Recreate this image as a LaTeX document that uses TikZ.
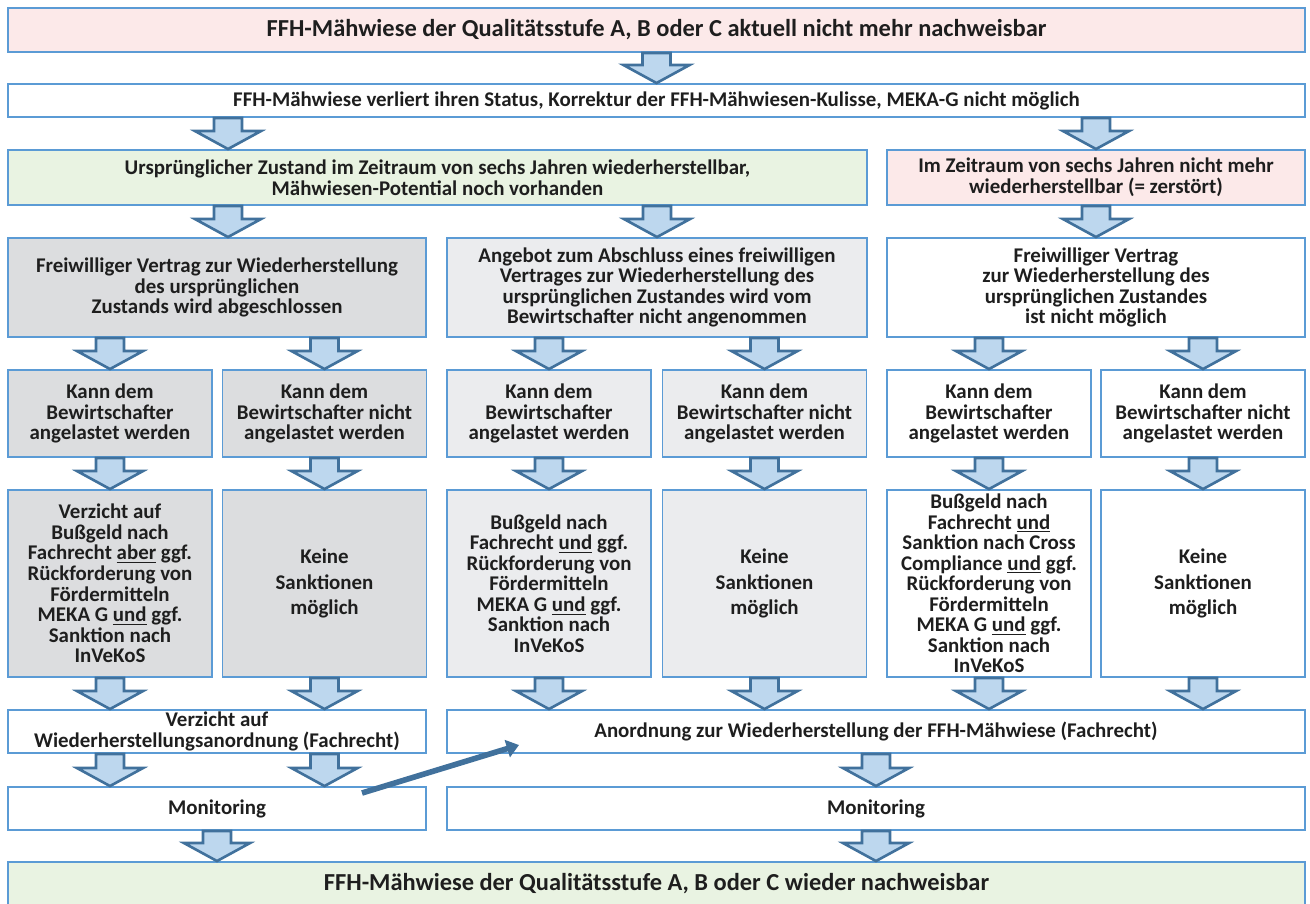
\documentclass[tikz,border=0pt]{standalone}
\usepackage{fontspec}
\setmainfont{Carlito}
\usetikzlibrary{calc,arrows.meta}

\definecolor{boxline}{RGB}{91,155,213}
\definecolor{arrowline}{RGB}{65,113,156}
\definecolor{arrowfill}{RGB}{189,215,238}
\definecolor{lostpink}{RGB}{252,233,233}
\definecolor{backgreen}{RGB}{233,243,226}
\definecolor{greyA}{RGB}{220,221,223}
\definecolor{greyB}{RGB}{235,236,238}
\definecolor{txt}{RGB}{30,30,30}

\begin{document}
\begin{tikzpicture}[
  x=0.02cm, y=-0.02cm,
  box/.style={rectangle, draw=boxline, line width=1.1pt, inner sep=0pt, align=center, text=txt,
    font=\bfseries\fontsize{11.9}{11.7}\selectfont},
  title/.style={box, font=\bfseries\fontsize{13.9}{15}\selectfont},
  cell/.style={box, minimum width=4.08cm},
  loose/.style={font=\bfseries\fontsize{11.9}{14.3}\selectfont},
  fat/.style={draw=arrowline, fill=arrowfill, line width=1.5pt,
    to path={let \p1=(\tikztostart), \p2=(\tikztotarget) in
      (\x2-0.28cm,\y1) -- (\x2-0.28cm,\y2+0.36cm) -- (\x2-0.66cm,\y2+0.36cm) -- (\x2,\y2)
      -- (\x2+0.66cm,\y2+0.36cm) -- (\x2+0.28cm,\y2+0.36cm) -- (\x2+0.28cm,\y1) -- cycle}},
  hint/.style={draw=arrowline, line width=3.2pt, -{Triangle[length=7pt,width=10pt]}}
]
\useasboundingbox (0,0) rectangle (1310,903);

% Top rows
\node[title, fill=lostpink, minimum width=25.94cm, minimum height=0.88cm] (lost) at (656.5,30)
  {FFH-Mähwiese der Qualitätsstufe A, B oder C aktuell nicht mehr nachweisbar};
\node[box, minimum width=25.94cm, minimum height=0.66cm] (status) at (656.5,100.5)
  {FFH-Mähwiese verliert ihren Status, Korrektur der FFH-Mähwiesen-Kulisse, MEKA-G nicht möglich};
\node[box, fill=backgreen, minimum width=17.18cm, minimum height=1.1cm] (restorable) at (437.5,177.5)
  {Ursprünglicher Zustand im Zeitraum von sechs Jahren wiederherstellbar,\\Mähwiesen-Potential noch vorhanden};
\node[box, fill=lostpink, minimum width=8.36cm, minimum height=1.1cm] (destroyed) at (1096,177.5)
  {Im Zeitraum von sechs Jahren nicht mehr\\wiederherstellbar (= zerstört)};

% Contract boxes
\node[box, fill=greyA, minimum width=8.36cm, minimum height=1.98cm] (contract) at (217,287.5)
  {Freiwilliger Vertrag zur Wiederherstellung\\des ursprünglichen\\Zustands wird abgeschlossen};
\node[box, fill=greyB, minimum width=8.4cm, minimum height=1.98cm] (refused) at (657,287.5)
  {Angebot zum Abschluss eines freiwilligen\\Vertrages zur Wiederherstellung des\\ursprünglichen Zustandes wird vom\\Bewirtschafter nicht angenommen};
\node[box, minimum width=8.36cm, minimum height=1.98cm] (impossible) at (1096,287.5)
  {Freiwilliger Vertrag\\zur Wiederherstellung des\\ursprünglichen Zustandes\\ist nicht möglich};

% Guilt boxes
\node[cell, fill=greyA, minimum height=1.74cm] (guiltA) at (110,413.5) {Kann dem\\Bewirtschafter\\angelastet werden};
\node[cell, fill=greyA, minimum height=1.74cm] (freeA) at (324.5,413.5) {Kann dem\\Bewirtschafter nicht\\angelastet werden};
\node[cell, fill=greyB, minimum height=1.74cm] (guiltB) at (549,413.5) {Kann dem\\Bewirtschafter\\angelastet werden};
\node[cell, fill=greyB, minimum height=1.74cm] (freeB) at (764.5,413.5) {Kann dem\\Bewirtschafter nicht\\angelastet werden};
\node[cell, minimum height=1.74cm] (guiltC) at (989,413.5) {Kann dem\\Bewirtschafter\\angelastet werden};
\node[cell, minimum height=1.74cm] (freeC) at (1203,413.5) {Kann dem\\Bewirtschafter nicht\\angelastet werden};

% Sanction boxes
\node[cell, fill=greyA, minimum height=3.74cm] (fineA) at (110,583.5)
  {Verzicht auf\\Bußgeld nach\\Fachrecht \underline{aber} ggf.\\Rückforderung von\\Fördermitteln\\MEKA G \underline{und} ggf.\\Sanktion nach\\InVeKoS};
\node[cell, loose, fill=greyA, minimum height=3.74cm] (noneA) at (324.5,583.5) {Keine\\Sanktionen\\möglich};
\node[cell, fill=greyB, minimum height=3.74cm] (fineB) at (549,583.5)
  {Bußgeld nach\\Fachrecht \underline{und} ggf.\\Rückforderung von\\Fördermitteln\\MEKA G \underline{und} ggf.\\Sanktion nach\\InVeKoS};
\node[cell, loose, fill=greyB, minimum height=3.74cm] (noneB) at (764.5,583.5) {Keine\\Sanktionen\\möglich};
\node[cell, minimum height=3.74cm] (fineC) at (989,583.5)
  {Bußgeld nach\\Fachrecht \underline{und}\\Sanktion nach Cross\\Compliance \underline{und} ggf.\\Rückforderung von\\Fördermitteln\\MEKA G \underline{und} ggf.\\Sanktion nach\\InVeKoS};
\node[cell, loose, minimum height=3.74cm] (noneC) at (1203,583.5) {Keine\\Sanktionen\\möglich};

% Orders and monitoring
\node[box, minimum width=8.36cm, minimum height=0.86cm] (waiver) at (217,731.5)
  {Verzicht auf\\Wiederherstellungsanordnung (Fachrecht)};
\node[box, minimum width=17.16cm, minimum height=0.86cm] (order) at (876,731.5)
  {Anordnung zur Wiederherstellung der FFH-Mähwiese (Fachrecht)};
\node[box, minimum width=8.36cm, minimum height=0.86cm] (monL) at (217,808.5) {Monitoring};
\node[box, minimum width=17.16cm, minimum height=0.86cm] (monR) at (876,808.5) {Monitoring};
\node[title, fill=backgreen, minimum width=25.94cm, minimum height=0.88cm] (back) at (656.5,884)
  {FFH-Mähwiese der Qualitätsstufe A, B oder C wieder nachweisbar};

% Block arrows
\draw[fat] (lost.south) to (status.north);
\draw[fat] (status.south) to ([xshift=0.22cm]contract.north |- restorable.north);
\draw[fat] (status.south) to (destroyed.north);
\draw[fat] (restorable.south) to ([xshift=0.22cm]contract.north);
\draw[fat] (restorable.south) to (refused.north);
\draw[fat] (destroyed.south) to (impossible.north);
\draw[fat] (contract.south) to (guiltA.north);
\draw[fat] (contract.south) to (freeA.north);
\draw[fat] (refused.south) to (guiltB.north);
\draw[fat] (refused.south) to (freeB.north);
\draw[fat] (impossible.south) to (guiltC.north);
\draw[fat] (impossible.south) to (freeC.north);
\draw[fat] (guiltA.south) to (fineA.north);
\draw[fat] (freeA.south) to (noneA.north);
\draw[fat] (guiltB.south) to (fineB.north);
\draw[fat] (freeB.south) to (noneB.north);
\draw[fat] (guiltC.south) to (fineC.north);
\draw[fat] (freeC.south) to (noneC.north);
\draw[fat] (fineA.south) to (waiver.north -| fineA.south);
\draw[fat] (noneA.south) to (waiver.north -| noneA.south);
\draw[fat] (fineB.south) to (order.north -| fineB.south);
\draw[fat] (noneB.south) to (order.north -| noneB.south);
\draw[fat] (fineC.south) to (order.north -| fineC.south);
\draw[fat] (noneC.south) to (order.north -| noneC.south);
\draw[fat] (waiver.south) to (monL.north -| fineA.south);
\draw[fat] (waiver.south) to (monL.north -| noneA.south);
\draw[fat] (order.south) to (monR.north);
\draw[fat] (monL.south) to (back.north -| monL.south);
\draw[fat] (monR.south) to (back.north -| monR.south);

% Hint from monitoring to the order
\coordinate (hintA) at (362,793);
\coordinate (hintB) at (519,745);
\draw[hint] (hintA) -- (hintB);

\end{tikzpicture}
\end{document}
